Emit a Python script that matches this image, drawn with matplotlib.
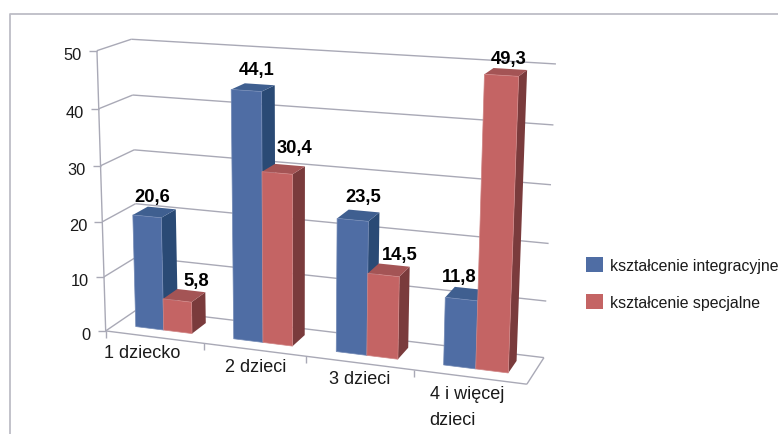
import numpy as np
import matplotlib
matplotlib.use("Agg")
import matplotlib.pyplot as plt
from matplotlib.patches import Polygon, Patch

categories = ["1 dziecko", "2 dzieci", "3 dzieci", "4 i więcej\ndzieci"]
series_names = ["kształcenie integracyjne", "kształcenie specjalne"]
integracyjne = [20.6, 44.1, 23.5, 11.8]
specjalne = [5.8, 30.4, 14.5, 49.3]
y_ticks = [0, 10, 20, 30, 40, 50]

FONT = "Liberation Sans"

# camera calibration: (category position, depth, value) -> reference pixel
cal_world, cal_px = [], []
walls = {
    (0, 0): [(107, 331), (105, 278), (102, 222), (100, 167), (98, 110), (96, 52)],
    (0, 1): [(137, 310), (136, 259), (135, 205), (135, 150), (134, 96), (132, 40)],
    (4, 1): [(544, 358), (546, 302), (549, 244), (551, 186), (553, 126), (556, 65)],
}
for (cx, cy), pts in walls.items():
    for t, p in zip(y_ticks, pts):
        cal_world.append((cx, cy, t)); cal_px.append(p)
cal_world.append((4, 0, 0)); cal_px.append((527, 386))
A = []
for (X, Y, Z), (u, v) in zip(cal_world, cal_px):
    Z = Z / 50
    A.append([X, Y, Z, 1, 0, 0, 0, 0, -u * X, -u * Y, -u * Z, -u])
    A.append([0, 0, 0, 0, X, Y, Z, 1, -v * X, -v * Y, -v * Z, -v])
P = np.linalg.svd(np.array(A, float))[2][-1].reshape(3, 4)


def proj(x, d, z):
    h = P @ np.array([x, d, z / 50, 1.0])
    return h[0] / h[2], h[1] / h[2]


fig = plt.figure(figsize=(7.78, 4.35), dpi=100, facecolor="white")
ax = fig.add_axes([0, 0, 1, 1])
ax.set_xlim(0, 778)
ax.set_ylim(435, 0)
ax.axis("off")

GRID = "#A9A9B6"
FRAME = "#BDBDC6"
TXT = "#1a1a1a"

# outer chart frame
ax.plot([10, 10, 778], [435, 15, 15], color=FRAME, lw=1.3, zorder=1)


def seg(a, b, **kw):
    ax.plot([a[0], b[0]], [a[1], b[1]], color=GRID, lw=1.0, zorder=2,
            solid_capstyle="butt", **kw)


for t in y_ticks:
    fl, bl, br = proj(0, 0, t), proj(0, 1, t), proj(4, 1, t)
    seg(fl, bl)
    seg(bl, br)
    seg((fl[0] - 8, fl[1]), fl)
    ax.text(fl[0] - 15, fl[1] + 3.5, str(t), ha="right", va="center",
            family=FONT, fontsize=11.8, color=TXT, zorder=6)
seg(proj(0, 0, 0), proj(0, 0, 50))
seg(proj(0, 0, 0), proj(4, 0, 0))
seg(proj(4, 0, 0), proj(4, 1, 0))
for i in range(4):
    a = proj(i, 0, 0)
    seg(a, (a[0], a[1] + 7))

# category labels
label_off = [(-12, 15), (1, 17), (0, 15), (-3, 17)]
for i, (c, off) in enumerate(zip(categories, label_off)):
    m = proj(i + 0.5, 0, 0)
    y = m[1] + off[1] + (12.5 if "\n" in c else 0)
    ax.text(m[0] + off[0], y, c, ha="center", va="center", ma="left",
            family=FONT, fontsize=13, color=TXT, linespacing=1.65, zorder=6)

BLUE = ("#4F6DA4", "#3F5F90", "#2A4A75", "#7289B5")
RED = ("#C46464", "#A45455", "#7A3B3C", "#D08585")
GAP = 0.21
W = 0.29
D0, D1 = 0.30, 0.76


def bar(i, k, v, cols):
    front, top, side, edge = cols
    x0 = i + GAP + k * W
    x1 = x0 + W
    base = 3 + i * 0.01
    z = base + k * 0.1
    ax.add_patch(Polygon([proj(x1, D0, 0), proj(x1, D1, 0), proj(x1, D1, v), proj(x1, D0, v)],
                         closed=True, fc=side, ec="none", zorder=z))
    ax.add_patch(Polygon([proj(x0, D0, v), proj(x1, D0, v), proj(x1, D1, v), proj(x0, D1, v)],
                         closed=True, fc=top, ec="none", zorder=z))
    ax.add_patch(Polygon([proj(x0, D0, 0), proj(x1, D0, 0), proj(x1, D0, v), proj(x0, D0, v)],
                         closed=True, fc=front, ec=edge, lw=0.5, zorder=z + 0.01))
    return proj((x0 + x1) / 2, D0, v)


val_off = [[(5, -20), (10, -21), (11, -23), (-2, -23)],
           [(19, -20), (17, -25), (16, -21), (7, -17)]]
for k, (vals, cols) in enumerate(((integracyjne, BLUE), (specjalne, RED))):
    for i, v in enumerate(vals):
        tx, ty = bar(i, k, v, cols)
        dx, dy = val_off[k][i]
        ax.text(tx + dx, ty + dy, f"{v:.1f}".replace(".", ","), ha="center", va="center",
                family=FONT, fontweight="bold", fontsize=13.2, color="black", zorder=7)

handles = [Patch(fc=BLUE[0], ec="none"), Patch(fc=RED[0], ec="none")]
leg = ax.legend(handles, series_names, loc="upper left", bbox_to_anchor=(586 / 778, 1 - 258 / 435),
                frameon=False, borderpad=0, borderaxespad=0, handlelength=1.07, handleheight=1.07,
                handletextpad=0.44, labelspacing=1.33,
                prop={"family": FONT, "size": 11.4})
for t in leg.get_texts():
    t.set_color(TXT)

fig.savefig("out.png", dpi=100)
